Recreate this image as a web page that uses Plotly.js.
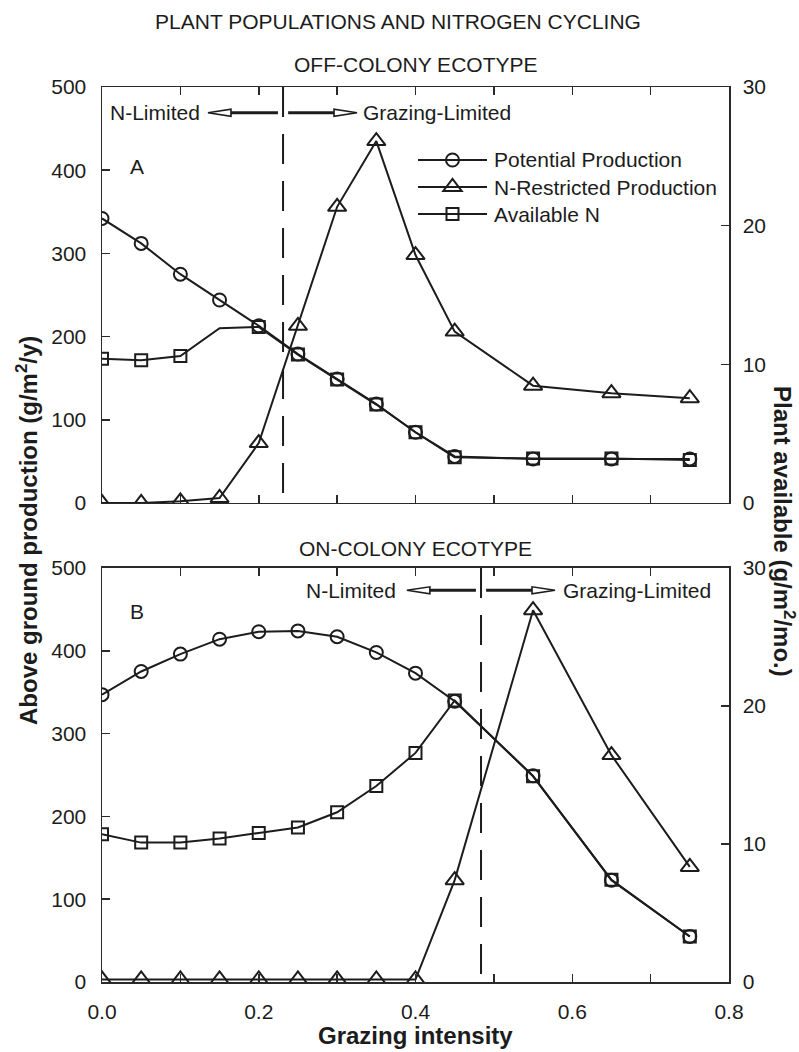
<!DOCTYPE html>
<html><head><meta charset="utf-8">
<script src="https://cdn.plot.ly/plotly-3.0.1.min.js"></script>
<style>html,body{margin:0;padding:0;background:#fff}</style>
</head><body><div id="chart" style="width:799px;height:1052px"></div>
<script>
// ---------- data ----------
const grazing = [0, 0.05, 0.1, 0.15, 0.2, 0.25, 0.3, 0.35, 0.4, 0.45, 0.55, 0.65, 0.75];

// Panel A: off-colony ecotype
const offPotential  = [342, 312, 275, 244, 213, 179, 149, 119, 85, 56, 53, 53, 53];
const offRestricted = [0, 0, 2, 6, 72, 213, 356, 435, 298, 206, 141, 132, 126];
const offAvailN     = [10.4, 10.3, 10.6, 12.6, 12.7, 10.7, 8.9, 7.1, 5.1, 3.3, 3.2, 3.2, 3.1];

// Panel B: on-colony ecotype
const onPotential  = [347, 375, 396, 414, 423, 424, 417, 398, 373, 339, 249, 123, 55];
const onRestricted = [3, 3, 3, 3, 3, 3, 3, 3, 3, 123, 449, 274, 139];
const onAvailN     = [10.7, 10.1, 10.1, 10.4, 10.8, 11.2, 12.3, 14.2, 16.6, 20.4, 14.9, 7.4, 3.3];

const seriesNames = ['Potential Production', 'N-Restricted Production', 'Available N'];

const yLeftTicks = [0, 100, 200, 300, 400, 500];
const yRightTicks = [0, 10, 20, 30];

// regime boundaries (grazing intensity)
const offBoundary = 0.231;
const onBoundary = 0.4836;

// ---------- styles ----------
const FONT = 'Liberation Sans, Arial, Helvetica, sans-serif';
const INK = '#1c1c1c';
const AX = '#2a2a2a';

function mk(symbol, size) {
  return {symbol: symbol, size: size, color: INK, line: {color: INK, width: 2}};
}
const lineStyle = {color: INK, width: 2};

// panel A's Available N curve has an unmarked vertex at grazing 0.15
const offNMarkIdx = grazing.map((g, i) => i).filter(i => i !== 3);

const data = [
  {x: grazing, y: offPotential, xaxis: 'x2', yaxis: 'y3', mode: 'lines+markers', name: seriesNames[0],
   line: lineStyle, marker: mk('circle-open', 13)},
  {x: grazing, y: offRestricted, xaxis: 'x2', yaxis: 'y3', mode: 'lines+markers', name: seriesNames[1],
   line: lineStyle, marker: mk('triangle-up-open', 16)},
  {x: grazing, y: offAvailN, xaxis: 'x2', yaxis: 'y4', mode: 'lines', name: seriesNames[2], line: lineStyle},
  {x: offNMarkIdx.map(i => grazing[i]), y: offNMarkIdx.map(i => offAvailN[i]), xaxis: 'x2', yaxis: 'y4',
   mode: 'markers', name: seriesNames[2], marker: mk('square-open', 12)},
  {x: grazing, y: onPotential, xaxis: 'x', yaxis: 'y', mode: 'lines+markers', name: seriesNames[0],
   line: lineStyle, marker: mk('circle-open', 13)},
  {x: grazing, y: onRestricted, xaxis: 'x', yaxis: 'y', mode: 'lines+markers', name: seriesNames[1],
   line: lineStyle, marker: mk('triangle-up-open', 16)},
  {x: grazing, y: onAvailN, xaxis: 'x', yaxis: 'y2', mode: 'lines+markers', name: seriesNames[2],
   line: lineStyle, marker: mk('square-open', 12)}
];

const baseAxis = {
  showline: true, linecolor: AX, linewidth: 1.5, showgrid: false, zeroline: false,
  ticks: 'inside', ticklen: 8, tickwidth: 1.5, tickcolor: AX,
  tickfont: {family: FONT, size: 21, color: INK}, fixedrange: true
};
function ax(extra) { return Object.assign({}, baseAxis, extra); }
const minorX = {dtick: 0.1, tick0: 0, ticks: 'inside', ticklen: 8, tickwidth: 1.5, tickcolor: AX, showgrid: false};

// plot area: l=102, r=70, t=87, b=70  -> 627 x 895 px
const PL = 102, PT = 87, PW = 627, PH = 895;
const px2x = p => (p - PL) / PW;
const py2y = p => (PT + PH - p) / PH;

const topDomain = [0.5352, 1];
const botDomain = [0, 0.4626];

const layout = {
  width: 799, height: 1052, autosize: false,
  margin: {l: 102, r: 70, t: 87, b: 70, pad: 0},
  paper_bgcolor: '#fff', plot_bgcolor: 'rgba(0,0,0,0)',
  font: {family: FONT, size: 21, color: INK},
  showlegend: false,
  title: {text: 'PLANT POPULATIONS AND NITROGEN CYCLING', font: {family: FONT, size: 21, color: INK},
          x: px2x(398), xref: 'paper', y: 1 - 22 / 1052, yref: 'container', xanchor: 'center', yanchor: 'middle'},
  xaxis: ax({anchor: 'y', domain: [0, 1], range: [0, 0.8], tick0: 0, dtick: 0.2, tickformat: '.1f',
             minor: minorX, mirror: 'ticks', ticklabelstandoff: 10}),
  xaxis2: ax({anchor: 'y3', domain: [0, 1], range: [0, 0.8], tick0: 0, dtick: 0.2, showticklabels: false,
              minor: minorX, mirror: 'ticks'}),
  yaxis: ax({anchor: 'x', domain: botDomain, range: [0, 500], tickvals: yLeftTicks, ticklabelstandoff: 10}),
  yaxis2: ax({anchor: 'x', overlaying: 'y', side: 'right', range: [0, 30], tickvals: yRightTicks, ticklabelstandoff: 8}),
  yaxis3: ax({anchor: 'x2', domain: topDomain, range: [0, 500], tickvals: yLeftTicks, ticklabelstandoff: 10}),
  yaxis4: ax({anchor: 'x2', overlaying: 'y3', side: 'right', range: [0, 30], tickvals: yRightTicks, ticklabelstandoff: 8}),
  annotations: [
    {text: 'OFF-COLONY ECOTYPE', xref: 'paper', yref: 'paper', x: 0.5, y: py2y(64), showarrow: false,
     xanchor: 'center', yanchor: 'middle', font: {size: 21}},
    {text: 'ON-COLONY ECOTYPE', xref: 'paper', yref: 'paper', x: 0.5, y: py2y(548), showarrow: false,
     xanchor: 'center', yanchor: 'middle', font: {size: 21}},
    {text: '<b>Above ground production (g/m<sup>2</sup>/y)</b>', xref: 'paper', yref: 'paper',
     x: px2x(27), y: py2y(531), textangle: -90, showarrow: false,
     xanchor: 'center', yanchor: 'middle', font: {size: 24}},
    {text: '<b>Plant available (g/m<sup>2</sup>/mo.)</b>', xref: 'paper', yref: 'paper',
     x: px2x(784), y: py2y(531), textangle: 90, showarrow: false,
     xanchor: 'center', yanchor: 'middle', font: {size: 24}},
    {text: '<b>Grazing intensity</b>', xref: 'paper', yref: 'paper', x: 0.5, y: py2y(1035),
     showarrow: false, xanchor: 'center', yanchor: 'middle', font: {size: 24}},
    {text: 'A', xref: 'x2', yref: 'y3', x: 0.045, y: 404, showarrow: false, xanchor: 'center', yanchor: 'middle'},
    {text: 'B', xref: 'x', yref: 'y', x: 0.045, y: 447, showarrow: false, xanchor: 'center', yanchor: 'middle'},
    {text: 'N-Limited', xref: 'x2', yref: 'y3', x: 0.127, y: 469, showarrow: false, xanchor: 'right', yanchor: 'middle'},
    {text: 'Grazing-Limited', xref: 'x2', yref: 'y3', x: 0.331, y: 469, showarrow: false, xanchor: 'left', yanchor: 'middle'},
    {text: 'N-Limited', xref: 'x', yref: 'y', x: 0.378, y: 473, showarrow: false, xanchor: 'right', yanchor: 'middle'},
    {text: 'Grazing-Limited', xref: 'x', yref: 'y', x: 0.586, y: 473, showarrow: false, xanchor: 'left', yanchor: 'middle'}
  ],
  shapes: []
};

function addArrowPair(xr, yr, boundary, yv, leftTip, rightTip) {
  const gap = 0.0065;         // gap between shaft and dashed line
  const head = 23 / 783.75;   // head length in x units
  layout.shapes.push({type: 'line', xref: xr, yref: yr, x0: leftTip + head, x1: boundary - gap, y0: yv, y1: yv,
                      line: {color: INK, width: 3}});
  layout.shapes.push({type: 'line', xref: xr, yref: yr, x0: boundary + gap, x1: rightTip - head, y0: yv, y1: yv,
                      line: {color: INK, width: 3}});
  layout.shapes.push({type: 'path', xref: xr, yref: yr, xsizemode: 'pixel', ysizemode: 'pixel',
                      xanchor: leftTip, yanchor: yv, path: 'M0,0 L23,3.5 L23,-3.5 Z',
                      fillcolor: '#fff', line: {color: INK, width: 1.6}});
  layout.shapes.push({type: 'path', xref: xr, yref: yr, xsizemode: 'pixel', ysizemode: 'pixel',
                      xanchor: rightTip, yanchor: yv, path: 'M0,0 L-23,3.5 L-23,-3.5 Z',
                      fillcolor: '#fff', line: {color: INK, width: 1.6}});
}
// dashed regime boundaries
layout.shapes.push({type: 'line', xref: 'x2', yref: 'y3', x0: offBoundary, x1: offBoundary, y0: 500, y1: 12,
                    line: {color: INK, width: 2, dash: '30px,17px'}});
layout.shapes.push({type: 'line', xref: 'x', yref: 'y', x0: onBoundary, x1: onBoundary, y0: 500, y1: 8,
                    line: {color: INK, width: 2, dash: '30px,17px'}});
addArrowPair('x2', 'y3', offBoundary, 469, 0.1352, 0.3254);
addArrowPair('x', 'y', onBoundary, 473, 0.389, 0.578);

// ---------- hand-drawn legend (panel A) ----------
const legendRows = [160, 187, 214];
const legendSymbols = [
  {type: 'circle', x0: -6.5, x1: 6.5, y0: -6.5, y1: 6.5},
  {type: 'path', path: 'M-9.2,-4 L9.2,-4 L0,8 Z'},
  {type: 'rect', x0: -6, x1: 6, y0: -6, y1: 6}
];
legendRows.forEach((row, i) => {
  layout.shapes.push({type: 'line', xref: 'paper', yref: 'paper', x0: px2x(418), x1: px2x(487),
                      y0: py2y(row), y1: py2y(row), line: {color: INK, width: 2}});
  layout.shapes.push(Object.assign({xref: 'paper', yref: 'paper', xsizemode: 'pixel', ysizemode: 'pixel',
                      xanchor: px2x(452.5), yanchor: py2y(row), fillcolor: 'rgba(0,0,0,0)',
                      line: {color: INK, width: 2}}, legendSymbols[i]));
  layout.annotations.push({text: seriesNames[i], xref: 'paper', yref: 'paper', x: px2x(492), y: py2y(row),
                           showarrow: false, xanchor: 'left', yanchor: 'middle', font: {size: 21}});
});

Plotly.newPlot('chart', data, layout, {displayModeBar: false, staticPlot: true});
</script>
</body></html>
